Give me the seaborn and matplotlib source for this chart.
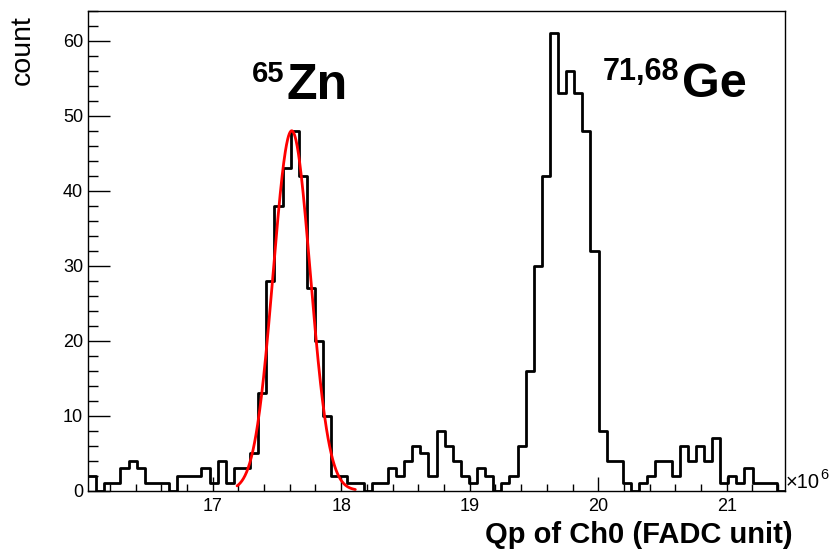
import numpy as np
import pandas as pd
import matplotlib
matplotlib.use("Agg")
import matplotlib.pyplot as plt
import seaborn as sns
from matplotlib.ticker import MultipleLocator
from matplotlib.transforms import Bbox, TransformedBbox

# ---------------- data ----------------
x_min, x_max = 16.030, 21.453          # histogram range, units of 1e6
counts = [2, 0, 1, 1, 3, 4, 3, 1, 1, 1,
          0, 2, 2, 2, 3, 1, 4, 1, 3, 3,
          5, 13, 28, 38, 43, 48, 42, 27, 20, 10,
          2, 2, 1, 1, 0, 1, 1, 3, 2, 4,
          6, 5, 2, 8, 6, 4, 2, 1, 3, 2,
          0, 1, 2, 6, 16, 30, 42, 61, 53, 56,
          53, 48, 32, 8, 4, 4, 1, 0, 1, 2,
          4, 4, 2, 6, 4, 6, 4, 7, 1, 2,
          1, 3, 1, 1, 1, 0]
fit_amp, fit_mean, fit_sigma = 48.0, 17.615, 0.144   # gaussian fit of the Zn peak
fit_lo, fit_hi = 17.19, 18.11
x_ticks = [17, 18, 19, 20, 21]
y_ticks = [0, 10, 20, 30, 40, 50, 60]
x_title = "Qp of Ch0 (FADC unit)"
y_title = "count"

# ---------------- style ----------------
sns.set_theme(style="ticks")
plt.rcParams['font.family'] = ['Liberation Sans', 'DejaVu Sans']
for k in ['text.color', 'axes.labelcolor', 'xtick.color', 'ytick.color', 'axes.edgecolor']:
    plt.rcParams[k] = 'black'

W, H = 831, 552
fig = plt.figure(figsize=(W / 100, H / 100), dpi=100)
fig.patch.set_facecolor("white")
ax = fig.add_axes([88 / W, 61.5 / H, 697 / W, 480 / H])
ax.set_facecolor("white")

def fp(px, py):
    return px / W, 1 - py / H

n_bins = len(counts)
edges = [float(e) for e in np.linspace(x_min, x_max, n_bins + 1)]
centers = [0.5 * (edges[i] + edges[i + 1]) for i in range(n_bins)]
df = pd.DataFrame({"qp": centers, "count": counts})

sns.histplot(data=df, x="qp", weights="count", bins=edges, element="step",
             fill=False, color="black", linewidth=2, ax=ax)

fx = np.linspace(fit_lo, fit_hi, 300)
fy = fit_amp * np.exp(-0.5 * ((fx - fit_mean) / fit_sigma) ** 2)
sns.lineplot(x=fx, y=fy, color="red", linewidth=2, ax=ax)

ax.set_xlim(x_min, x_max)
ax.set_ylim(0, 1.05 * max(counts))
ax.set_xlabel("")
ax.set_ylabel("")

ax.set_xticks(x_ticks)
ax.set_xticklabels([str(t) for t in x_ticks], fontsize=13, color='black')
ax.set_yticks(y_ticks)
ax.set_yticklabels([str(t) for t in y_ticks], fontsize=13, color='black')
ax.xaxis.set_minor_locator(MultipleLocator(0.2))
ax.yaxis.set_minor_locator(MultipleLocator(2))
ax.tick_params(axis='x', which='major', direction='in', length=10, width=1,
               pad=5.5, color='black', top=False)
ax.tick_params(axis='x', which='minor', direction='in', length=5, width=1,
               color='black', top=False)
ax.tick_params(axis='y', which='major', direction='in', length=15.5, width=1,
               pad=3.5, color='black', right=False)
ax.tick_params(axis='y', which='minor', direction='in', length=7.5, width=1,
               color='black', right=False)
for s in ax.spines.values():
    s.set_visible(True)
    s.set_color("black")
    s.set_linewidth(1)

# peak labels
fig.text(*fp(252, 82), "65", fontsize=21, fontweight='bold', ha='left', va='baseline')
fig.text(*fp(287, 99), "Zn", fontsize=36, fontweight='bold', ha='left', va='baseline')
fig.text(*fp(603, 80), "71,68", fontsize=22, fontweight='bold', ha='left', va='baseline')
fig.text(*fp(682, 97), "Ge", fontsize=35, fontweight='bold', ha='left', va='baseline')

# exponent
fig.text(*fp(786, 488.5), "×10", fontsize=14.5, ha='left', va='baseline')
fig.text(*fp(820, 479), "6", fontsize=10.5, ha='left', va='baseline')

# axis titles
fig.text(*fp(793, 543), x_title, fontsize=21, fontweight='bold', ha='right', va='baseline')
fig.text(*fp(23, 15), y_title, fontsize=20.5, rotation=90, ha='center', va='top')

# the reference's x tick labels are slightly cut off at the bottom
fig.canvas.draw()
clip = TransformedBbox(Bbox.from_extents(0, 1 - 511 / H, 1, 1), fig.transFigure)
for tk in ax.xaxis.get_major_ticks():
    tk.label1.set_clip_on(True)
    tk.label1.set_clip_box(clip)

fig.savefig("out.png", dpi=100, facecolor="white")
